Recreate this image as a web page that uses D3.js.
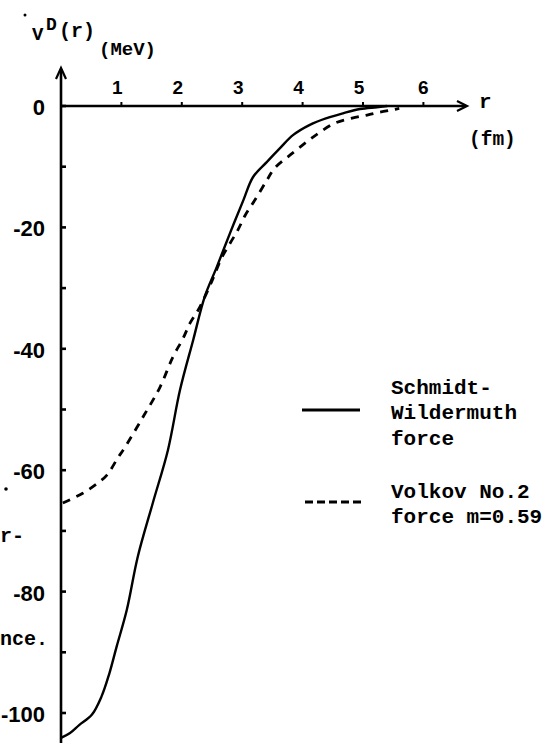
<!DOCTYPE html>
<html>
<head>
<meta charset="utf-8">
<script src="https://cdn.jsdelivr.net/npm/d3@7"></script>
<style>
  body { margin: 0; background: #fff; }
  svg { display: block; }
  .mono { font-family: "Liberation Mono", "DejaVu Sans Mono", monospace; font-weight: bold; }
  .sans { font-family: "Liberation Sans", Arial, sans-serif; font-weight: bold; }
</style>
</head>
<body>
<svg id="chart" width="547" height="743"></svg>
<script>
// Schmidt-Wildermuth force (solid)
var swR = [0, 0.15, 0.3, 0.51, 0.67, 0.8, 0.92, 1.09, 1.27, 1.52, 1.77, 1.97, 2.19, 2.38, 2.58, 2.8, 3.02, 3.18, 3.41, 3.63, 3.84, 4.12, 4.4, 4.67, 4.95, 5.23, 5.4];
var swV = [-104.1, -103.3, -102, -100.3, -97.3, -93.5, -89.1, -83, -74.3, -65.4, -56.7, -46.8, -38.5, -31.4, -26.5, -20.9, -15.5, -11.7, -9.2, -6.9, -4.8, -3.1, -2.0, -1.2, -0.5, -0.2, 0];

// Volkov No.2 force m=0.59 (dashed)
var vkR = [0.03, 0.36, 0.61, 0.76, 0.94, 1.06, 1.36, 1.64, 1.85, 2.02, 2.14, 2.3, 2.5, 2.66, 2.8, 2.93, 3.05, 3.21, 3.41, 3.54, 3.79, 4.07, 4.29, 4.54, 4.82, 5.07, 5.28, 5.5, 5.6];
var vkV = [-65.4, -63.8, -62.1, -60.8, -58, -56.2, -51.2, -46.3, -41.4, -38.3, -35.7, -33.1, -28.8, -25, -22.6, -20.4, -18, -15.5, -12.2, -10.2, -8.1, -5.9, -4.3, -2.8, -2.0, -1.5, -1.0, -0.6, -0.4];

var xTicks = [1, 2, 3, 4, 5, 6];
var yLabels = [0, -20, -40, -60, -80, -100];
var yMinor = [-10, -30, -50, -70, -90];
var legendText = ['Schmidt-', 'Wildermuth', 'force', 'Volkov No.2', 'force m=0.59'];

var svg = d3.select('#chart');
var xScale = d3.scaleLinear().domain([0, 6]).range([61, 423.4]);
var yScale = d3.scaleLinear().domain([0, -100]).range([106, 713]);

var lineGen = d3.line()
  .x(d => xScale(d[0]))
  .y(d => yScale(d[1]))
  .curve(d3.curveCatmullRom);

var x0 = xScale(0), y0 = yScale(0);

// axes
svg.append('line').attr('x1', x0).attr('y1', 743).attr('x2', x0).attr('y2', 69)
  .style('stroke', '#000').style('stroke-width', 2.6);
svg.append('path').attr('d', 'M' + (x0-5) + ',79L' + x0 + ',68L' + (x0+5) + ',79')
  .style('stroke', '#000').style('stroke-width', 2.2).style('fill', 'none');
svg.append('line').attr('x1', x0).attr('y1', y0).attr('x2', 466).attr('y2', y0)
  .style('stroke', '#000').style('stroke-width', 2.6);
svg.append('path').attr('d', 'M457,' + (y0-5) + 'L467,' + y0 + 'L457,' + (y0+5))
  .style('stroke', '#000').style('stroke-width', 2.2).style('fill', 'none');

// x ticks
svg.selectAll('.xt').data(xTicks).enter().append('line')
  .attr('x1', d => xScale(d)).attr('x2', d => xScale(d))
  .attr('y1', y0).attr('y2', y0 - 4)
  .style('stroke', '#000').style('stroke-width', 2);
svg.selectAll('.xl').data(xTicks).enter().append('text')
  .attr('class', 'sans').attr('x', d => xScale(d) - (d < 6 ? 4 : 0)).attr('y', 94)
  .attr('text-anchor', 'middle').style('font-size', '19px').text(d => d);

// y ticks
svg.selectAll('.yt').data(yLabels.concat(yMinor)).enter().append('line')
  .attr('x1', x0).attr('x2', x0 + 5)
  .attr('y1', d => yScale(d)).attr('y2', d => yScale(d))
  .style('stroke', '#000').style('stroke-width', 2.6);
svg.selectAll('.yl').data(yLabels).enter().append('text')
  .attr('class', 'sans').attr('x', 45).attr('y', d => yScale(d) + 9)
  .attr('text-anchor', 'end').style('font-size', '22px')
  .text(d => d === 0 ? '0' : '-' + Math.abs(d));

// curves
svg.append('path').attr('d', lineGen(swR.map((r, i) => [r, swV[i]])))
  .style('stroke', '#000').style('stroke-width', 2.4).style('fill', 'none');
svg.append('path').attr('d', lineGen(vkR.map((r, i) => [r, vkV[i]])))
  .style('stroke', '#000').style('stroke-width', 2.8).style('fill', 'none')
  .style('stroke-dasharray', '8,7');

// axis titles
svg.append('circle').attr('cx', 25).attr('cy', 15).attr('r', 1.5).style('fill', '#000');
svg.append('text').attr('class', 'mono').attr('x', 32).attr('y', 40).style('font-size', '19px').text('V');
svg.append('text').attr('class', 'mono').attr('x', 46).attr('y', 30).style('font-size', '18px').text('D');
svg.append('text').attr('class', 'mono').attr('x', 59).attr('y', 37).style('font-size', '20px').text('(r)');
svg.append('text').attr('class', 'mono').attr('x', 99).attr('y', 55).style('font-size', '19px').text('(MeV)');
svg.append('text').attr('class', 'mono').attr('x', 479).attr('y', 108).style('font-size', '21px').text('r');
svg.append('text').attr('class', 'mono').attr('x', 469).attr('y', 145).style('font-size', '19.5px').text('(fm)');

// legend
svg.append('line').attr('x1', 302).attr('x2', 360).attr('y1', 410).attr('y2', 410)
  .style('stroke', '#000').style('stroke-width', 3.2);
svg.append('line').attr('x1', 305).attr('x2', 363).attr('y1', 502).attr('y2', 502)
  .style('stroke', '#000').style('stroke-width', 3).style('stroke-dasharray', '8,4');
var legendY = [394, 419, 445, 498, 523];
svg.selectAll('.lg').data(legendText).enter().append('text')
  .attr('class', 'mono').attr('x', 391).attr('y', (d, i) => legendY[i])
  .style('font-size', '21px').text(d => d);

// fragments of text at the left edge
svg.append('text').attr('class', 'mono').attr('x', 0).attr('y', 542).style('font-size', '20px').text('r-');
svg.append('text').attr('class', 'mono').attr('x', 0).attr('y', 645).style('font-size', '20px').text('nce.');
svg.append('circle').attr('cx', 6).attr('cy', 489).attr('r', 1.8).style('fill', '#000');
</script>
</body>
</html>
